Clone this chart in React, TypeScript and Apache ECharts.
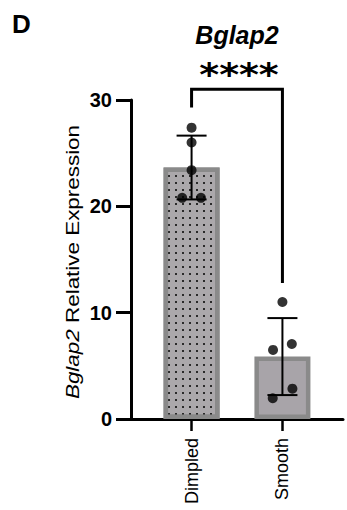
import React, { useEffect, useRef } from 'react';
import * as echarts from 'echarts';

const categories = ['Dimpled', 'Smooth'];
const categoryPositions = [2, 5];
const meanValues = [23.65, 5.87];
const sdValues = [3.0, 3.62];
const dimpledPoints = [27.4, 26.0, 23.4, 20.8, 20.8];
const dimpledJitter = [0, 0, 0, -0.31, 0.31];
const smoothPoints = [11.0, 6.5, 7.05, 2.85, 1.95];
const smoothJitter = [0, -0.31, 0.31, 0.33, -0.32];
const yTicks = [0, 10, 20, 30];
const significanceLabel = '****';
const bracketLevels = [31.0, 29.3, 12.8]; // top, left end, right end
const titleText = 'Bglap2';
const panelLetter = 'D';

const FONT = '"Liberation Sans", Arial, Helvetica, sans-serif';

export default function App() {
  const ref = useRef<HTMLDivElement>(null);

  useEffect(() => {
    if (!ref.current) return;
    const chart = echarts.init(ref.current, undefined, { renderer: 'svg' });

    const barData = categoryPositions.map((p, i) => ({
      value: [p, meanValues[i]],
      itemStyle:
        i === 0
          ? {
              color: '#aba8ab',
              borderColor: '#8a8a8a',
              borderWidth: 4.5,
              decal: {
                symbol: 'rect',
                symbolSize: 1,
                dashArrayX: [1.4, 4.2],
                dashArrayY: [1.4, 4.2],
                color: '#2a2a2a',
                rotation: 0,
              },
            }
          : {
              color: '#a8a4a9',
              borderColor: '#8a8a8a',
              borderWidth: 4.5,
            },
    }));

    const pointData = [
      ...dimpledPoints.map((v, i) => [categoryPositions[0] + dimpledJitter[i], v]),
      ...smoothPoints.map((v, i) => [categoryPositions[1] + smoothJitter[i], v]),
    ];

    const errorData = categoryPositions.map((p, i) => [p, meanValues[i], sdValues[i]]);

    const bracketData = [[categoryPositions[0], categoryPositions[1], ...bracketLevels]];

    const option: any = {
      animation: false,
      grid: { left: 131, right: 4, top: 100, bottom: 91 },
      xAxis: {
        type: 'value',
        min: 0,
        max: 7,
        splitLine: { show: false },
        axisLine: { show: true, onZero: false, lineStyle: { color: '#000', width: 3 } },
        axisTick: {
          show: true,
          customValues: categoryPositions,
          length: 12,
          lineStyle: { color: '#000', width: 2.5 },
        },
        axisLabel: {
          customValues: categoryPositions,
          formatter: (v: number) => {
            const idx = categoryPositions.indexOf(v);
            return idx >= 0 ? categories[idx] : '';
          },
          rotate: 90,
          margin: 19,
          fontSize: 18,
          color: '#000',
          fontFamily: FONT,
        },
      },
      yAxis: {
        type: 'value',
        min: yTicks[0],
        max: yTicks[yTicks.length - 1],
        interval: yTicks[1] - yTicks[0],
        splitLine: { show: false },
        axisLine: { show: true, lineStyle: { color: '#000', width: 3 } },
        axisTick: { show: true, length: 15, lineStyle: { color: '#000', width: 3 } },
        axisLabel: {
          fontSize: 20,
          fontWeight: 'bold',
          color: '#000',
          margin: 19,
          fontFamily: FONT,
        },
      },
      graphic: [
        {
          type: 'text',
          x: 21.5,
          y: 24,
          style: {
            text: panelLetter,
            fontSize: 26,
            fontWeight: 'bold',
            fontFamily: FONT,
            fill: '#000',
            align: 'center',
            verticalAlign: 'middle',
          },
        },
        {
          type: 'text',
          x: 237,
          y: 34.6,
          style: {
            text: titleText,
            fontSize: 25,
            fontWeight: 'bold',
            fontStyle: 'italic',
            fontFamily: FONT,
            fill: '#000',
            align: 'center',
            verticalAlign: 'middle',
          },
        },
        {
          type: 'text',
          x: 239,
          y: 73,
          scaleY: 0.86,
          style: {
            text: significanceLabel,
            fontSize: 38,
            fontWeight: 'bold',
            fontFamily: '"DejaVu Sans", sans-serif',
            fill: '#000',
            align: 'center',
            verticalAlign: 'middle',
          },
        },
        {
          type: 'text',
          x: 72,
          y: 262,
          rotation: Math.PI / 2,
          scaleX: 1.18,
          style: {
            text: '{i|' + titleText + '}{n| Relative Expression}',
            fontSize: 19,
            fontFamily: FONT,
            fill: '#000',
            align: 'center',
            verticalAlign: 'middle',
            rich: {
              i: { fontSize: 19, fontFamily: FONT, fontStyle: 'italic', fill: '#000' },
              n: { fontSize: 19, fontFamily: FONT, fill: '#000' },
            },
          },
        },
      ],
      series: [
        {
          type: 'bar',
          data: barData,
          barWidth: 56,
          z: 2,
        },
        {
          type: 'custom',
          z: 3,
          encode: { x: 0, y: 1 },
          data: errorData,
          renderItem: (params: any, api: any) => {
            const x = api.value(0);
            const m = api.value(1);
            const s = api.value(2);
            const top = api.coord([x, m + s]);
            const bot = api.coord([x, m - s]);
            const hw = 15;
            const st = { stroke: '#000', lineWidth: 2 };
            return {
              type: 'group',
              children: [
                { type: 'line', shape: { x1: top[0], y1: top[1], x2: bot[0], y2: bot[1] }, style: st },
                { type: 'line', shape: { x1: top[0] - hw, y1: top[1], x2: top[0] + hw, y2: top[1] }, style: st },
                { type: 'line', shape: { x1: bot[0] - hw, y1: bot[1], x2: bot[0] + hw, y2: bot[1] }, style: st },
              ],
            };
          },
        },
        {
          type: 'custom',
          z: 3,
          encode: { x: [0, 1], y: [2, 3, 4] },
          data: bracketData,
          renderItem: (params: any, api: any) => {
            const x1 = api.value(0);
            const x2 = api.value(1);
            const yt = api.value(2);
            const yl = api.value(3);
            const yr = api.value(4);
            const p1 = api.coord([x1, yl]);
            const p2 = api.coord([x1, yt]);
            const p3 = api.coord([x2, yt]);
            const p4 = api.coord([x2, yr]);
            return {
              type: 'polyline',
              shape: { points: [p1, p2, p3, p4] },
              style: { stroke: '#000', lineWidth: 3, fill: 'none' },
            };
          },
        },
        {
          type: 'scatter',
          z: 4,
          data: pointData,
          symbol: 'circle',
          symbolSize: 10,
          itemStyle: { color: '#000' },
        },
      ],
    };

    chart.setOption(option);
    return () => chart.dispose();
  }, []);

  return (
    <div
      ref={ref}
      style={{ position: 'fixed', left: 0, top: 0, width: 347, height: 510, background: '#fff' }}
    />
  );
}
